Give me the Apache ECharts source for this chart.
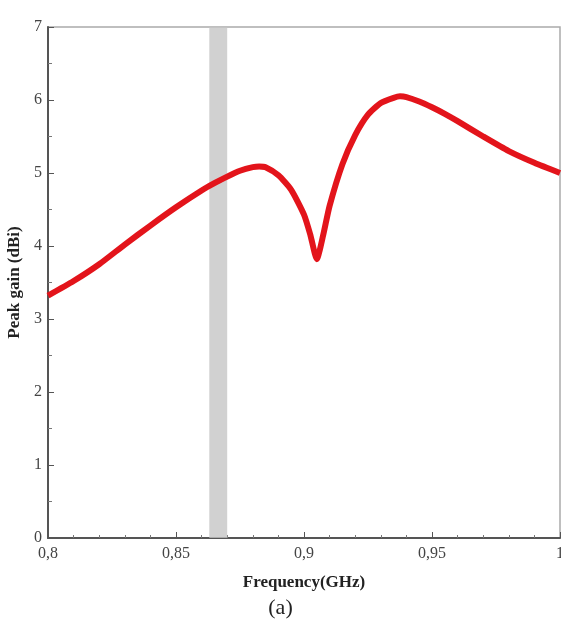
<!DOCTYPE html>
<html>
<head>
<meta charset="utf-8">
<script src="https://cdn.jsdelivr.net/npm/echarts@6/dist/echarts.min.js"></script>
<style>
  html, body { margin: 0; padding: 0; background: #fff; }
  #main { width: 561px; height: 634px; }
</style>
</head>
<body>
<div id="main"></div>
<script>
var chart = echarts.init(document.getElementById('main'));

// frequency (GHz) and peak gain (dBi)
var freq = [0.80, 0.81, 0.82, 0.83, 0.84, 0.85, 0.86, 0.865, 0.87, 0.875, 0.88, 0.8825, 0.885,
    0.89, 0.895, 0.90, 0.9025, 0.905, 0.9075, 0.91, 0.915, 0.92, 0.925, 0.93, 0.935, 0.9375, 0.94,
    0.945, 0.95, 0.955, 0.96, 0.97, 0.98, 0.99, 1.00];
var gain = [3.32, 3.52, 3.75, 4.02, 4.28, 4.53, 4.76, 4.86, 4.95, 5.03, 5.08, 5.09, 5.08,
    4.97, 4.77, 4.43, 4.15, 3.82, 4.15, 4.55, 5.12, 5.52, 5.80, 5.96, 6.03, 6.05, 6.04,
    5.98, 5.90, 5.81, 5.71, 5.50, 5.30, 5.14, 5.00];
// shaded band
var band = [0.863, 0.870];
var xTicks = ['0,8', '0,85', '0,9', '0,95', '1'];

var data = [];
for (var i = 0; i < freq.length; i++) {
    data.push([freq[i], gain[i]]);
}

var labelFont = { fontFamily: 'Liberation Serif', fontSize: 16, color: '#444' };

option = {
    animation: false,
    grid: {
        left: 48,
        right: 1,
        top: 27,
        bottom: 96,
        outerBoundsMode: 'none',
        containLabel: false,
        show: true,
        borderColor: '#aaa',
        borderWidth: 1.5
    },
    xAxis: {
        type: 'value',
        min: 0.8,
        max: 1,
        interval: 0.05,
        name: 'Frequency(GHz)',
        nameLocation: 'middle',
        nameGap: 36,
        nameTextStyle: { fontFamily: 'Liberation Serif', fontWeight: 'bold', fontSize: 17, color: '#222' },
        axisLine: { lineStyle: { color: '#555', width: 2 } },
        axisTick: { inside: true, length: 6, lineStyle: { color: '#555' } },
        minorTick: { show: true, splitNumber: 5, length: 3, lineStyle: { color: '#777' } },
        splitLine: { show: false },
        axisLabel: {
            fontFamily: labelFont.fontFamily, fontSize: labelFont.fontSize, color: labelFont.color,
            margin: 8,
            formatter: function (v) {
                var k = Math.round((v - 0.8) / 0.05);
                return xTicks[k] || '';
            }
        }
    },
    yAxis: {
        type: 'value',
        min: 0,
        max: 7,
        interval: 1,
        name: 'Peak gain (dBi)',
        nameLocation: 'middle',
        nameGap: 20,
        nameTextStyle: { fontFamily: 'Liberation Serif', fontWeight: 'bold', fontSize: 17, color: '#222' },
        axisLine: { show: true, lineStyle: { color: '#555', width: 2 } },
        axisTick: { show: true, inside: true, length: 6, lineStyle: { color: '#555' } },
        minorTick: { show: true, splitNumber: 2, length: 4, lineStyle: { color: '#777' } },
        splitLine: { show: false },
        axisLabel: {
            fontFamily: labelFont.fontFamily, fontSize: labelFont.fontSize, color: labelFont.color,
            margin: 6
        }
    },
    series: [
        {
            type: 'line',
            data: data,
            symbol: 'none',
            smooth: 0.2,
            lineStyle: { color: '#e3141b', width: 6 },
            z: 2
        },
        {
            type: 'line',
            data: [],
            z: 5,
            markArea: {
                silent: true,
                itemStyle: { color: 'rgba(196,196,196,0.78)' },
                data: [[{ xAxis: band[0] }, { xAxis: band[1] }]]
            }
        }
    ],
    graphic: [
        {
            type: 'text',
            left: 'center',
            top: 597,
            style: { text: '(a)', fontFamily: 'Liberation Serif', fontSize: 22, fill: '#222' }
        }
    ]
};

option && chart.setOption(option);
</script>
</body>
</html>
